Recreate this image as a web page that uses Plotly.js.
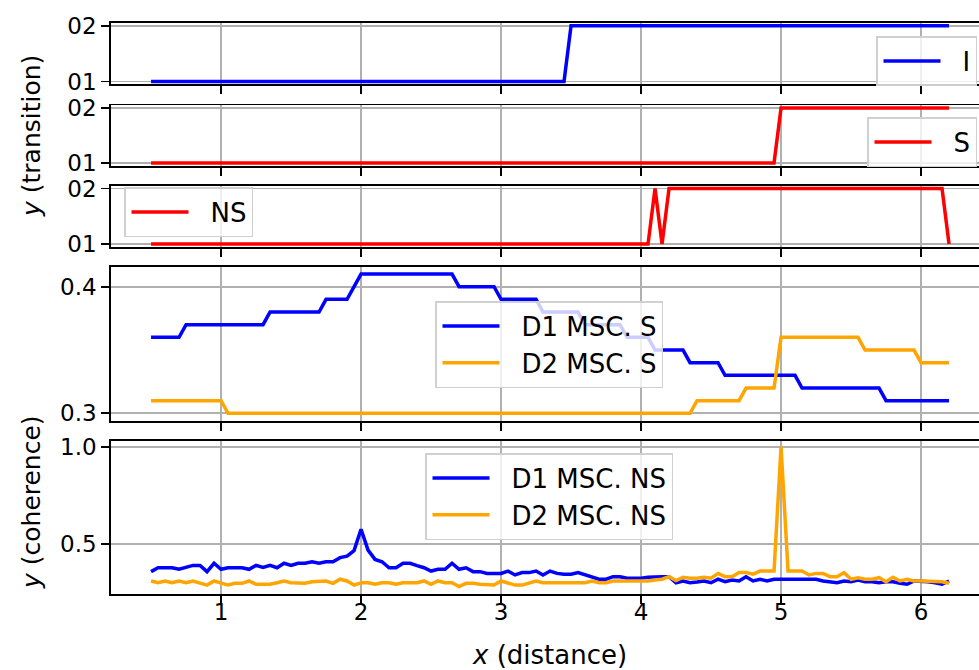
<!DOCTYPE html>
<html>
<head>
<meta charset="utf-8">
<script src="https://cdn.plot.ly/plotly-3.0.1.min.js"></script>
<style>html,body{margin:0;padding:0;background:#fff;}#chart{width:979px;height:670px;}</style>
</head>
<body>
<div id="chart"></div>
<script>
// ---- transition panels (step vertices) ----
const I_x = [0.5, 3.45, 3.5, 6.2];
const I_y = ['01', '01', '02', '02'];
const S_x = [0.5, 4.95, 5.0, 6.2];
const S_y = ['01', '01', '02', '02'];
const NS_x = [0.5, 4.05, 4.1, 4.15, 4.2, 6.15, 6.2];
const NS_y = ['01', '01', '02', '01', '02', '02', '01'];
const transitionCats = ['01', '02'];

// ---- MSC S panel (step vertices) ----
const D1S_x = [0.5, 0.7, 0.75, 1.3, 1.35, 1.7, 1.75, 1.9, 2.0, 2.65, 2.7, 2.95, 3.0, 3.25, 3.3, 3.55, 3.6, 3.85, 3.9, 4.05, 4.1, 4.3, 4.35, 4.55, 4.6, 5.1, 5.15, 5.7, 5.75, 6.2];
const D1S_y = [0.36, 0.36, 0.37, 0.37, 0.38, 0.38, 0.39, 0.39, 0.41, 0.41, 0.40, 0.40, 0.39, 0.39, 0.38, 0.38, 0.37, 0.37, 0.36, 0.36, 0.35, 0.35, 0.34, 0.34, 0.33, 0.33, 0.32, 0.32, 0.31, 0.31];
const D2S_x = [0.5, 1.0, 1.05, 4.35, 4.4, 4.7, 4.75, 4.95, 5.0, 5.55, 5.6, 5.95, 6.0, 6.2];
const D2S_y = [0.31, 0.31, 0.30, 0.30, 0.31, 0.31, 0.32, 0.32, 0.36, 0.36, 0.35, 0.35, 0.34, 0.34];

// ---- MSC NS panel ----
const distance = [0.5, 0.55, 0.6, 0.65, 0.7, 0.75, 0.8, 0.85, 0.9, 0.95,
  1.0, 1.05, 1.1, 1.15, 1.2, 1.25, 1.3, 1.35, 1.4, 1.45,
  1.5, 1.55, 1.6, 1.65, 1.7, 1.75, 1.8, 1.85, 1.9, 1.95,
  2.0, 2.05, 2.1, 2.15, 2.2, 2.25, 2.3, 2.35, 2.4, 2.45,
  2.5, 2.55, 2.6, 2.65, 2.7, 2.75, 2.8, 2.85, 2.9, 2.95,
  3.0, 3.05, 3.1, 3.15, 3.2, 3.25, 3.3, 3.35, 3.4, 3.45,
  3.5, 3.55, 3.6, 3.65, 3.7, 3.75, 3.8, 3.85, 3.9, 3.95,
  4.0, 4.05, 4.1, 4.15, 4.2, 4.25, 4.3, 4.35, 4.4, 4.45,
  4.5, 4.55, 4.6, 4.65, 4.7, 4.75, 4.8, 4.85, 4.9, 4.95,
  5.0, 5.05, 5.1, 5.15, 5.2, 5.25, 5.3, 5.35, 5.4, 5.45,
  5.5, 5.55, 5.6, 5.65, 5.7, 5.75, 5.8, 5.85, 5.9, 5.95,
  6.0, 6.05, 6.1, 6.15, 6.2];
const D1NS = [0.358, 0.378, 0.378, 0.378, 0.370, 0.380, 0.390, 0.390, 0.358, 0.401,
  0.370, 0.378, 0.378, 0.378, 0.370, 0.390, 0.380, 0.390, 0.378, 0.401,
  0.390, 0.401, 0.401, 0.409, 0.401, 0.409, 0.409, 0.430, 0.438, 0.466,
  0.576, 0.469, 0.421, 0.409, 0.378, 0.378, 0.401, 0.401, 0.389, 0.378,
  0.361, 0.370, 0.370, 0.401, 0.370, 0.378, 0.358, 0.358, 0.349, 0.349,
  0.349, 0.361, 0.341, 0.353, 0.353, 0.361, 0.341, 0.361, 0.349, 0.345,
  0.345, 0.353, 0.341, 0.329, 0.319, 0.319, 0.332, 0.332, 0.324, 0.324,
  0.324, 0.329, 0.332, 0.332, 0.332, 0.301, 0.310, 0.301, 0.305, 0.310,
  0.301, 0.319, 0.306, 0.315, 0.310, 0.332, 0.310, 0.319, 0.310, 0.319,
  0.319, 0.319, 0.319, 0.319, 0.319, 0.319, 0.310, 0.306, 0.301, 0.310,
  0.306, 0.315, 0.306, 0.306, 0.301, 0.306, 0.306, 0.298, 0.293, 0.310,
  0.310, 0.306, 0.301, 0.293, 0.310];
const D2NS = [0.310, 0.301, 0.310, 0.301, 0.310, 0.301, 0.310, 0.301, 0.289, 0.310,
  0.298, 0.289, 0.298, 0.298, 0.310, 0.293, 0.293, 0.293, 0.301, 0.310,
  0.301, 0.301, 0.298, 0.306, 0.310, 0.310, 0.298, 0.319, 0.310, 0.289,
  0.301, 0.301, 0.293, 0.301, 0.301, 0.293, 0.301, 0.301, 0.301, 0.310,
  0.293, 0.310, 0.301, 0.301, 0.281, 0.298, 0.298, 0.293, 0.289, 0.289,
  0.310, 0.298, 0.289, 0.289, 0.301, 0.310, 0.301, 0.301, 0.301, 0.301,
  0.301, 0.301, 0.301, 0.310, 0.301, 0.301, 0.310, 0.310, 0.310, 0.310,
  0.310, 0.310, 0.315, 0.319, 0.332, 0.312, 0.329, 0.324, 0.324, 0.329,
  0.324, 0.349, 0.332, 0.332, 0.353, 0.353, 0.345, 0.361, 0.361, 0.361,
  1.000, 0.361, 0.361, 0.361, 0.341, 0.349, 0.349, 0.332, 0.332, 0.353,
  0.319, 0.327, 0.319, 0.319, 0.327, 0.306, 0.329, 0.310, 0.319, 0.310,
  0.310, 0.310, 0.310, 0.306, 0.298];

const xTicks = [1, 2, 3, 4, 5, 6];

const FONT = 'DejaVu Sans, sans-serif';
const TICKF = 23;
const LEGF = 26;
const LW = 3.5;
const BLUE = '#0000ff', RED = '#ff0000', ORANGE = '#ffa500';

const traces = [
  {x: I_x, y: I_y, name: 'I', xaxis: 'x', yaxis: 'y', legend: 'legend', line: {color: BLUE, width: LW}},
  {x: S_x, y: S_y, name: 'S', xaxis: 'x2', yaxis: 'y2', legend: 'legend2', line: {color: RED, width: LW}},
  {x: NS_x, y: NS_y, name: 'NS', xaxis: 'x3', yaxis: 'y3', legend: 'legend3', line: {color: RED, width: LW}},
  {x: D1S_x, y: D1S_y, name: 'D1 MSC. S', xaxis: 'x4', yaxis: 'y4', legend: 'legend4', line: {color: BLUE, width: LW}},
  {x: D2S_x, y: D2S_y, name: 'D2 MSC. S', xaxis: 'x4', yaxis: 'y4', legend: 'legend4', line: {color: ORANGE, width: LW}},
  {x: distance, y: D1NS, name: 'D1 MSC. NS', xaxis: 'x5', yaxis: 'y5', legend: 'legend5', line: {color: BLUE, width: LW}},
  {x: distance, y: D2NS, name: 'D2 MSC. NS', xaxis: 'x5', yaxis: 'y5', legend: 'legend5', line: {color: ORANGE, width: LW}}
].map(t => Object.assign({type: 'scatter', mode: 'lines', showlegend: true}, t));

// geometry (pixels)
const L = 111, T = 23, B = 76, W = 979, H = 670;
const plotH = H - T - B; // 571
const bottomPx = H - B;  // 594
const frac = py => (bottomPx - py) / plotH;
const XR = [0.214, 0.214 + (W - L) / 140];

function xa(anchor, showLabels) {
  return {
    anchor: anchor, domain: [0, 1], range: XR, autorange: false,
    tickmode: 'array', tickvals: xTicks, ticktext: xTicks.map(String),
    showticklabels: showLabels, ticks: 'outside', ticklen: 8, tickwidth: 1.8, tickcolor: '#000',
    ticklabelstandoff: -11,
    showline: true, mirror: true, linecolor: '#000', linewidth: 1.8,
    showgrid: true, gridcolor: '#b0b0b0', gridwidth: 1.8, zeroline: false,
    tickfont: {family: FONT, size: TICKF, color: '#000'}
  };
}
function ya(anchor, dom, extra) {
  return Object.assign({
    anchor: anchor, domain: dom,
    ticks: 'outside', ticklen: 8, tickwidth: 1.8, tickcolor: '#000',
    showline: true, mirror: false, linecolor: '#000', linewidth: 1.8,
    showgrid: true, gridcolor: '#b0b0b0', gridwidth: 1.8, zeroline: false,
    tickfont: {family: FONT, size: TICKF, color: '#000'}
  }, extra);
}
const catAxis = {type: 'category', categoryorder: 'array', categoryarray: transitionCats, range: [-0.05, 1.05], autorange: false};

function leg(x, y, xanchor) {
  return {
    x: x, y: y, xanchor: xanchor, yanchor: 'top', xref: 'paper', yref: 'paper',
    bgcolor: 'rgba(255,255,255,0.8)', bordercolor: '#d0d0d0', borderwidth: 1.5,
    font: {family: FONT, size: LEGF, color: '#000'}, itemwidth: 75, tracegroupgap: 0
  };
}
const lx = px => (px - L) / (W - L);

const layout = {
  width: W, height: H,
  margin: {l: L, r: 0, t: T, b: B, pad: 0},
  paper_bgcolor: '#fff', plot_bgcolor: '#fff',
  font: {family: FONT, size: TICKF, color: '#000'},
  xaxis: xa('y', false),
  xaxis2: xa('y2', false),
  xaxis3: xa('y3', false),
  xaxis4: xa('y4', false),
  xaxis5: xa('y5', true),
  yaxis: ya('x', [frac(84.3), 1], catAxis),
  yaxis2: ya('x2', [frac(165.7), frac(105.3)], catAxis),
  yaxis3: ya('x3', [frac(246.7), frac(185.7)], catAxis),
  yaxis4: ya('x4', [frac(420.7), frac(266.7)], {range: [0.2942, 0.4158], autorange: false, tickmode: 'array', tickvals: [0.3, 0.4], ticktext: ['0.3', '0.4']}),
  yaxis5: ya('x5', [0, frac(441)], {range: [0.243, 1.03], autorange: false, tickmode: 'array', tickvals: [0.5, 1.0], ticktext: ['0.5', '1.0']}),
  legend: leg(lx(977), frac(36), 'right'),
  legend2: leg(lx(977), frac(117), 'right'),
  legend3: leg(lx(124), frac(187), 'left'),
  legend4: leg(lx(435), frac(301), 'left'),
  legend5: leg(lx(425), frac(453), 'left'),
  annotations: [
    {text: '<i>y</i> (transition)', xref: 'paper', yref: 'paper', x: lx(31), y: frac(136), xanchor: 'center', yanchor: 'middle', textangle: -90, showarrow: false, font: {family: FONT, size: 25, color: '#000'}},
    {text: '<i>y</i> (coherence)', xref: 'paper', yref: 'paper', x: lx(31), y: frac(502), xanchor: 'center', yanchor: 'middle', textangle: -90, showarrow: false, font: {family: FONT, size: 25, color: '#000'}},
    {text: '<i>x</i> (distance)', xref: 'paper', yref: 'paper', x: lx(549), y: frac(655), xanchor: 'center', yanchor: 'middle', showarrow: false, font: {family: FONT, size: 26, color: '#000'}}
  ]
};

Plotly.newPlot('chart', traces, layout, {staticPlot: true, displayModeBar: false}).then(function (gd) {
  // lengthen legend line samples to match the reference handle length
  gd.querySelectorAll('.legendlines path').forEach(function (p) {
    p.setAttribute('d', 'M6,0h57');
  });
});
</script>
</body>
</html>
